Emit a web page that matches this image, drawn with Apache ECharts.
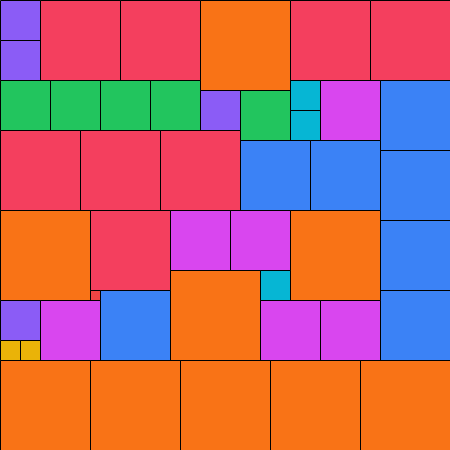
<!DOCTYPE html>
<html><head><meta charset="utf-8">
<script src="https://cdn.jsdelivr.net/npm/echarts@6/dist/echarts.min.js"></script>
<style>html,body{margin:0;padding:0;background:#fff}#c{width:450px;height:450px}</style>
</head><body><div id="c"></div>
<script>
// Square packing: left x, top y, side length, colour group
const groups = ['purple','red','orange','green','cyan','magenta','blue','yellow','crimson'];
const groupColors = ['#8B5CF6','#F43F5E','#F97316','#22C55E','#06B6D4','#D946EF','#3B82F6','#EAB308','#EF4444'];
const xs    = [0,0,40,120,200,290,370, 0,50,100,150,200,240,290,290,320,380, 0,80,160,240,310,380,380,380, 0,90,170,230,290,90,260,170,100,0,0,20,40,260,320, 0,90,180,270,360];
const ys    = [0,40,0,0,0,0,0, 80,80,80,80,90,90,80,110,80,80, 130,130,130,140,140,150,220,290, 210,210,210,210,210,290,270,270,290,300,340,340,300,300,300, 360,360,360,360,360];
const sizes = [40,40,80,80,90,80,80, 50,50,50,50,40,50,30,30,60,70, 80,80,80,70,70,70,70,70, 90,80,60,60,90,10,30,90,70,40,20,20,60,60,60, 90,90,90,90,90];
const kinds = ['purple','purple','red','red','orange','red','red',
  'green','green','green','green','purple','green','cyan','cyan','magenta','blue',
  'red','red','red','blue','blue','blue','blue','blue',
  'orange','red','magenta','magenta','orange','crimson','cyan','orange','blue','purple','yellow','yellow','magenta','magenta','magenta',
  'orange','orange','orange','orange','orange'];

const data = xs.map((x,i)=>({value:[x, ys[i], sizes[i]], itemStyle:{color: groupColors[groups.indexOf(kinds[i])]}}));

const chart = echarts.init(document.getElementById('c'));
chart.setOption({
  animation:false,
  grid:{left:0,right:0,top:0,bottom:0},
  xAxis:{type:'value',min:0,max:450,show:false},
  yAxis:{type:'value',min:0,max:450,inverse:true,show:false},
  series:[{
    type:'custom',
    data:data,
    encode:{x:0,y:1},
    renderItem:function(params, api){
      const p0 = api.coord([api.value(0), api.value(1)]);
      const s = api.value(2);
      const p1 = api.coord([api.value(0)+s, api.value(1)+s]);
      return {
        type:'rect',
        shape:{x:p0[0]+0.5, y:p0[1]+0.5, width:p1[0]-p0[0], height:p1[1]-p0[1]},
        style:{fill:api.visual('color'), stroke:'#000', lineWidth:1}
      };
    }
  }]
});
</script></body></html>
